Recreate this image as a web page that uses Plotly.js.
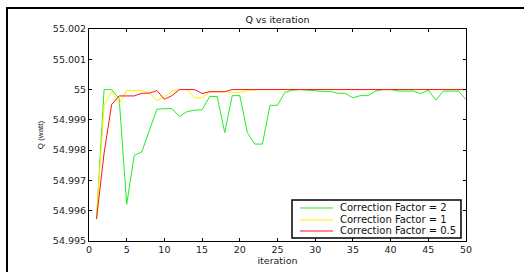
<!DOCTYPE html>
<html>
<head>
<meta charset="utf-8">
<script src="https://cdn.plot.ly/plotly-3.0.1.min.js"></script>
<style>
html,body{margin:0;padding:0;background:#fff;}
#wrap{position:relative;width:524px;height:272px;overflow:hidden;}
#chart{position:absolute;left:0;top:0;width:524px;height:272px;}
#frame{position:absolute;left:6px;top:7px;width:530px;height:280px;border-left:2px solid #000;border-top:2px solid #000;pointer-events:none;}
</style>
</head>
<body>
<div id="wrap"><div id="chart"></div><div id="frame"></div></div>
<script>
const iterations = Array.from({length: 50}, (_, i) => i + 1);

const qFactor2 = [
  54.99573, 55.00000, 55.00000, 54.99970, 54.99621, 54.99783, 54.99794, 54.99866, 54.99935, 54.99937,
  54.99937, 54.99911, 54.99927, 54.99932, 54.99933, 54.99977, 54.99977, 54.99858, 54.99980, 54.99980,
  54.99858, 54.99820, 54.99820, 54.99948, 54.99948, 54.99991, 54.99998, 55.00000, 54.99998, 54.99995,
  54.99994, 54.99994, 54.99988, 54.99987, 54.99973, 54.99980, 54.99980, 54.99995, 55.00000, 55.00000,
  54.99995, 54.99995, 54.99995, 54.99987, 54.99998, 54.99965, 54.99995, 54.99995, 54.99995, 54.99967
];

const qFactor1 = [
  54.99580, 54.99949, 54.99995, 54.99953, 54.99997, 54.99997, 54.99997, 54.99990, 54.99964, 54.99975,
  54.99995, 55.00000, 55.00000, 54.99973, 54.99973, 54.99992, 54.99993, 54.99993, 54.99990, 54.99990,
  54.99997, 54.99999, 55.00000, 55.00000, 55.00000, 55.00000, 55.00000, 55.00000, 55.00000, 55.00000,
  55.00000, 55.00000, 55.00000, 55.00000, 55.00000, 55.00000, 55.00000, 55.00000, 55.00000, 55.00000,
  55.00000, 55.00000, 55.00000, 55.00000, 55.00000, 55.00000, 55.00000, 55.00000, 55.00000, 55.00000
];

const qFactor05 = [
  54.99573, 54.99790, 54.99950, 54.99979, 54.99979, 54.99979, 54.99988, 54.99988, 54.99997, 54.99968,
  54.99980, 55.00000, 55.00000, 55.00000, 54.99987, 54.99993, 54.99993, 54.99993, 55.00000, 55.00000,
  55.00000, 55.00000, 55.00000, 55.00000, 55.00000, 55.00000, 55.00000, 55.00000, 55.00000, 55.00000,
  55.00000, 55.00000, 55.00000, 55.00000, 55.00000, 55.00000, 55.00000, 55.00000, 55.00000, 55.00000,
  55.00000, 55.00000, 55.00000, 55.00000, 55.00000, 55.00000, 55.00000, 55.00000, 55.00000, 55.00000
];

const seriesNames = ["Correction Factor = 2", "Correction Factor = 1", "Correction Factor = 0.5"];
const seriesColors = ["#22ee22", "#ffee00", "#ff1111"];
const yTickVals = [54.995, 54.996, 54.997, 54.998, 54.999, 55, 55.001, 55.002];
const yTickText = ["54.995", "54.996", "54.997", "54.998", "54.999", "55", "55.001", "55.002"];
const xTickVals = [0, 5, 10, 15, 20, 25, 30, 35, 40, 45, 50];

const wideFont = {family: "DejaVu Sans, sans-serif", size: 9.5, color: "#222"};
const narrowFont = {family: "Liberation Sans, Arial, sans-serif", size: 8, color: "#222"};

const seriesData = [qFactor2, qFactor1, qFactor05];
const traces = seriesData.map((ys, k) => ({
  x: iterations, y: ys, name: seriesNames[k], mode: "lines",
  line: {color: seriesColors[k], width: 1}, showlegend: false
}));

// Legend (MATLAB style box) built from the series names/colours
const legBox = {x0: 0.5385, x1: 0.9867, y0: 0.0142, y1: 0.1934};
const legRowsY = [0.1557, 0.0991, 0.0472];
const shapes = [{
  type: "rect", xref: "paper", yref: "paper",
  x0: legBox.x0, x1: legBox.x1, y0: legBox.y0, y1: legBox.y1,
  line: {color: "#000", width: 1.5}, fillcolor: "#fff", layer: "above"
}];
const annotations = [];
seriesNames.forEach((nm, k) => {
  shapes.push({
    type: "line", xref: "paper", yref: "paper",
    x0: 0.5597, x1: 0.6472, y0: legRowsY[k], y1: legRowsY[k],
    line: {color: seriesColors[k], width: 1}, layer: "above"
  });
  annotations.push({
    xref: "paper", yref: "paper", x: 0.6605, y: legRowsY[k],
    xanchor: "left", yanchor: "middle", showarrow: false,
    text: nm, font: {family: wideFont.family, size: 10, color: "#111"}
  });
});

const layout = {
  width: 524, height: 272,
  margin: {l: 89, r: 58, t: 29, b: 31},
  paper_bgcolor: "#fff", plot_bgcolor: "#fff",
  font: wideFont,
  showlegend: false,
  title: {text: "Q vs iteration", font: {family: wideFont.family, size: 9.5, color: "#111"},
          x: 0.5, xref: "paper", xanchor: "center", y: 0.926, yanchor: "middle"},
  xaxis: {
    range: [0, 50], tickvals: xTickVals, ticktext: xTickVals.map(String),
    ticks: "inside", ticklen: 3, tickcolor: "#000", showgrid: false, zeroline: false,
    showline: true, linecolor: "#000", linewidth: 1, mirror: "ticks",
    tickfont: wideFont,
    title: {text: "iteration", font: wideFont, standoff: 1}
  },
  yaxis: {
    range: [54.995, 55.002], tickvals: yTickVals, ticktext: yTickText,
    ticks: "inside", ticklen: 3, tickcolor: "#000", showgrid: false, zeroline: false,
    showline: true, linecolor: "#000", linewidth: 1, mirror: "ticks",
    tickfont: wideFont,
    title: {text: "Q (watt)", font: narrowFont, standoff: 8}
  },
  shapes: shapes,
  annotations: annotations
};

Plotly.newPlot("chart", traces, layout, {displayModeBar: false, staticPlot: true});
</script>
</body>
</html>
